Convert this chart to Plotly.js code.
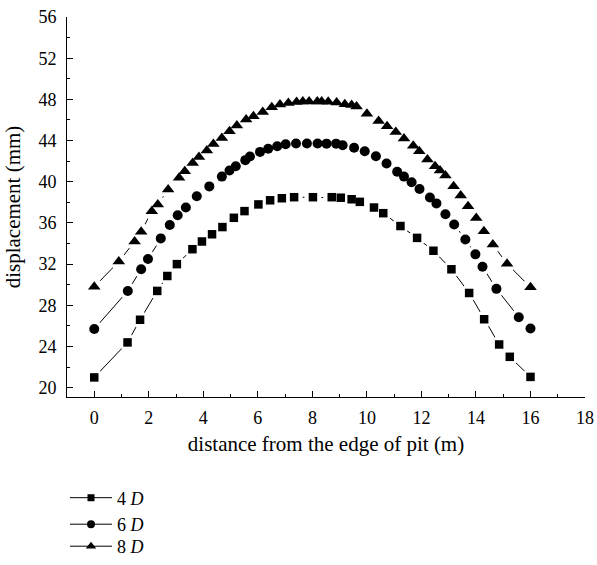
<!DOCTYPE html>
<html>
<head>
<meta charset="utf-8">
<script src="https://cdn.plot.ly/plotly-3.0.1.min.js"></script>
<style>html,body{margin:0;padding:0;background:#fff;}#chart{width:597px;height:565px;}</style>
</head>
<body>
<div id="chart"></div>
<script>
// 4D series
const x4D = [0, 1.22, 1.68, 2.31, 2.68, 3.03, 3.60, 3.95, 4.32, 4.70, 5.12, 5.51, 6.02, 6.45, 6.88, 7.33, 8.02, 8.71, 9.04, 9.44, 9.74, 10.26, 10.6, 11.23, 11.84, 12.44, 13.1, 13.75, 14.3, 14.85, 15.24, 16.0];
const y4D = [21.0, 24.4, 26.6, 29.4, 30.85, 32.0, 33.45, 34.2, 34.9, 35.6, 36.5, 37.15, 37.8, 38.2, 38.4, 38.5, 38.5, 38.5, 38.45, 38.3, 38.05, 37.5, 36.95, 35.7, 34.55, 33.3, 31.5, 29.2, 26.65, 24.2, 23.0, 21.05];
// 6D series
const x6D = [0, 1.23, 1.72, 1.97, 2.44, 2.77, 3.06, 3.36, 3.76, 4.22, 4.68, 4.96, 5.19, 5.54, 5.71, 6.08, 6.38, 6.71, 7.02, 7.40, 7.80, 8.19, 8.52, 8.87, 9.11, 9.53, 9.92, 10.33, 10.72, 11.11, 11.36, 11.64, 11.93, 12.31, 12.55, 12.88, 13.2, 13.61, 13.98, 14.24, 14.75, 15.57, 16.0];
const y6D = [25.7, 29.4, 31.5, 32.5, 34.5, 35.8, 36.75, 37.5, 38.6, 39.55, 40.5, 41.1, 41.5, 42.1, 42.45, 42.9, 43.2, 43.45, 43.65, 43.72, 43.72, 43.72, 43.7, 43.7, 43.55, 43.3, 42.97, 42.48, 41.77, 40.97, 40.5, 39.95, 39.3, 38.47, 37.9, 36.85, 35.85, 34.4, 32.95, 31.75, 29.6, 26.85, 25.75];
// 8D series
const x8D = [0, 0.9, 1.48, 1.72, 2.11, 2.33, 2.71, 3.11, 3.32, 3.61, 3.84, 4.13, 4.37, 4.68, 4.96, 5.23, 5.57, 5.84, 6.18, 6.51, 6.81, 7.12, 7.42, 7.65, 7.88, 8.18, 8.34, 8.58, 8.89, 9.19, 9.44, 9.62, 10.0, 10.43, 10.74, 11.06, 11.36, 11.7, 11.92, 12.22, 12.5, 12.68, 12.88, 13.18, 13.44, 13.71, 14.01, 14.29, 14.62, 15.14, 16.0];
const y8D = [29.8, 32.25, 34.2, 35.15, 37.14, 37.79, 39.25, 40.4, 41.02, 41.83, 42.4, 43.03, 43.67, 44.25, 44.9, 45.46, 46.04, 46.36, 46.78, 47.23, 47.5, 47.65, 47.75, 47.8, 47.8, 47.8, 47.8, 47.76, 47.7, 47.53, 47.46, 47.3, 46.6, 45.9, 45.4, 44.84, 44.2, 43.5, 42.96, 42.16, 41.5, 41.1, 40.6, 39.57, 38.67, 37.63, 36.49, 35.2, 33.91, 32.03, 29.75];

const seriesNames = ['4 <i>D</i>', '6 <i>D</i>', '8 <i>D</i>'];
const symbols = ['square', 'circle', 'triangle-up'];
const markerSizes = [8.5, 10, 11];
const legendSizes = [7, 8, 9];
const legendIds = ['legend', 'legend2', 'legend3'];
const xTitle = 'distance from the edge of pit (m)';
const yTitle = 'displacement (mm)';

const FONT = 'Liberation Serif, Times New Roman, serif';
const xs = [x4D, x6D, x8D];
const ys = [y4D, y6D, y8D];

const data = [];
// connecting lines (these also provide the legend entries)
for (let i = 0; i < 3; i++) {
  data.push({
    x: xs[i], y: ys[i], name: seriesNames[i], type: 'scatter', mode: 'lines+markers',
    legend: legendIds[i],
    line: {color: 'black', width: 1},
    marker: {symbol: symbols[i], size: legendSizes[i], color: 'black', line: {width: 0}},
    hoverinfo: 'skip'
  });
}
// white gaps of the line around each marker
for (let i = 0; i < 3; i++) {
  data.push({
    x: xs[i], y: ys[i], type: 'scatter', mode: 'markers', showlegend: false,
    marker: {symbol: 'circle', size: 17, color: 'white', line: {width: 0}},
    hoverinfo: 'skip'
  });
}
// markers
for (let i = 0; i < 3; i++) {
  data.push({
    x: xs[i], y: ys[i], name: seriesNames[i], type: 'scatter', mode: 'markers', showlegend: false,
    marker: {symbol: symbols[i], size: markerSizes[i], color: 'black', line: {width: 0}}
  });
}

const axisCommon = {
  showline: true, linecolor: 'black', linewidth: 1,
  showgrid: false, zeroline: false, automargin: false,
  ticks: 'inside', ticklen: 6, tickwidth: 1, tickcolor: 'black',
  tickfont: {family: FONT, size: 18, color: 'black'}
};

function legendAt(yc, anchor) {
  return {
    x: 0.0937, y: yc, xanchor: 'left', yanchor: anchor,
    font: {family: FONT, size: 18, color: 'black'},
    bgcolor: 'rgba(0,0,0,0)', itemwidth: 42
  };
}

const layout = {
  width: 597, height: 565,
  margin: {l: 10, r: 0, t: 17, b: 0},
  paper_bgcolor: 'white', plot_bgcolor: 'white',
  font: {family: FONT, size: 18, color: 'black'},
  showlegend: true,
  xaxis: Object.assign({}, axisCommon, {
    domain: [0.0971, 0.9796],
    range: [-1, 18], tick0: 0, dtick: 2, ticklabelstandoff: 4,
    minor: {ticks: 'inside', ticklen: 3, tick0: 1, dtick: 2, tickcolor: 'black', showgrid: false},
    title: {text: xTitle, font: {family: FONT, size: 21}, standoff: 9}
  }),
  yaxis: Object.assign({}, axisCommon, {
    domain: [0.3066, 1],
    range: [19.1, 56], tick0: 20, dtick: 4, ticklabelstandoff: 6,
    minor: {ticks: 'inside', ticklen: 3, tick0: 22, dtick: 4, tickcolor: 'black', showgrid: false},
    title: {text: yTitle, font: {family: FONT, size: 21}, standoff: 12}
  }),
  legend: legendAt(0.1223, 'middle'),
  legend2: legendAt(0.0739, 'middle'),
  legend3: legendAt(0, 'bottom')
};

Plotly.newPlot('chart', data, layout, {displayModeBar: false, staticPlot: true});
</script>
</body>
</html>
